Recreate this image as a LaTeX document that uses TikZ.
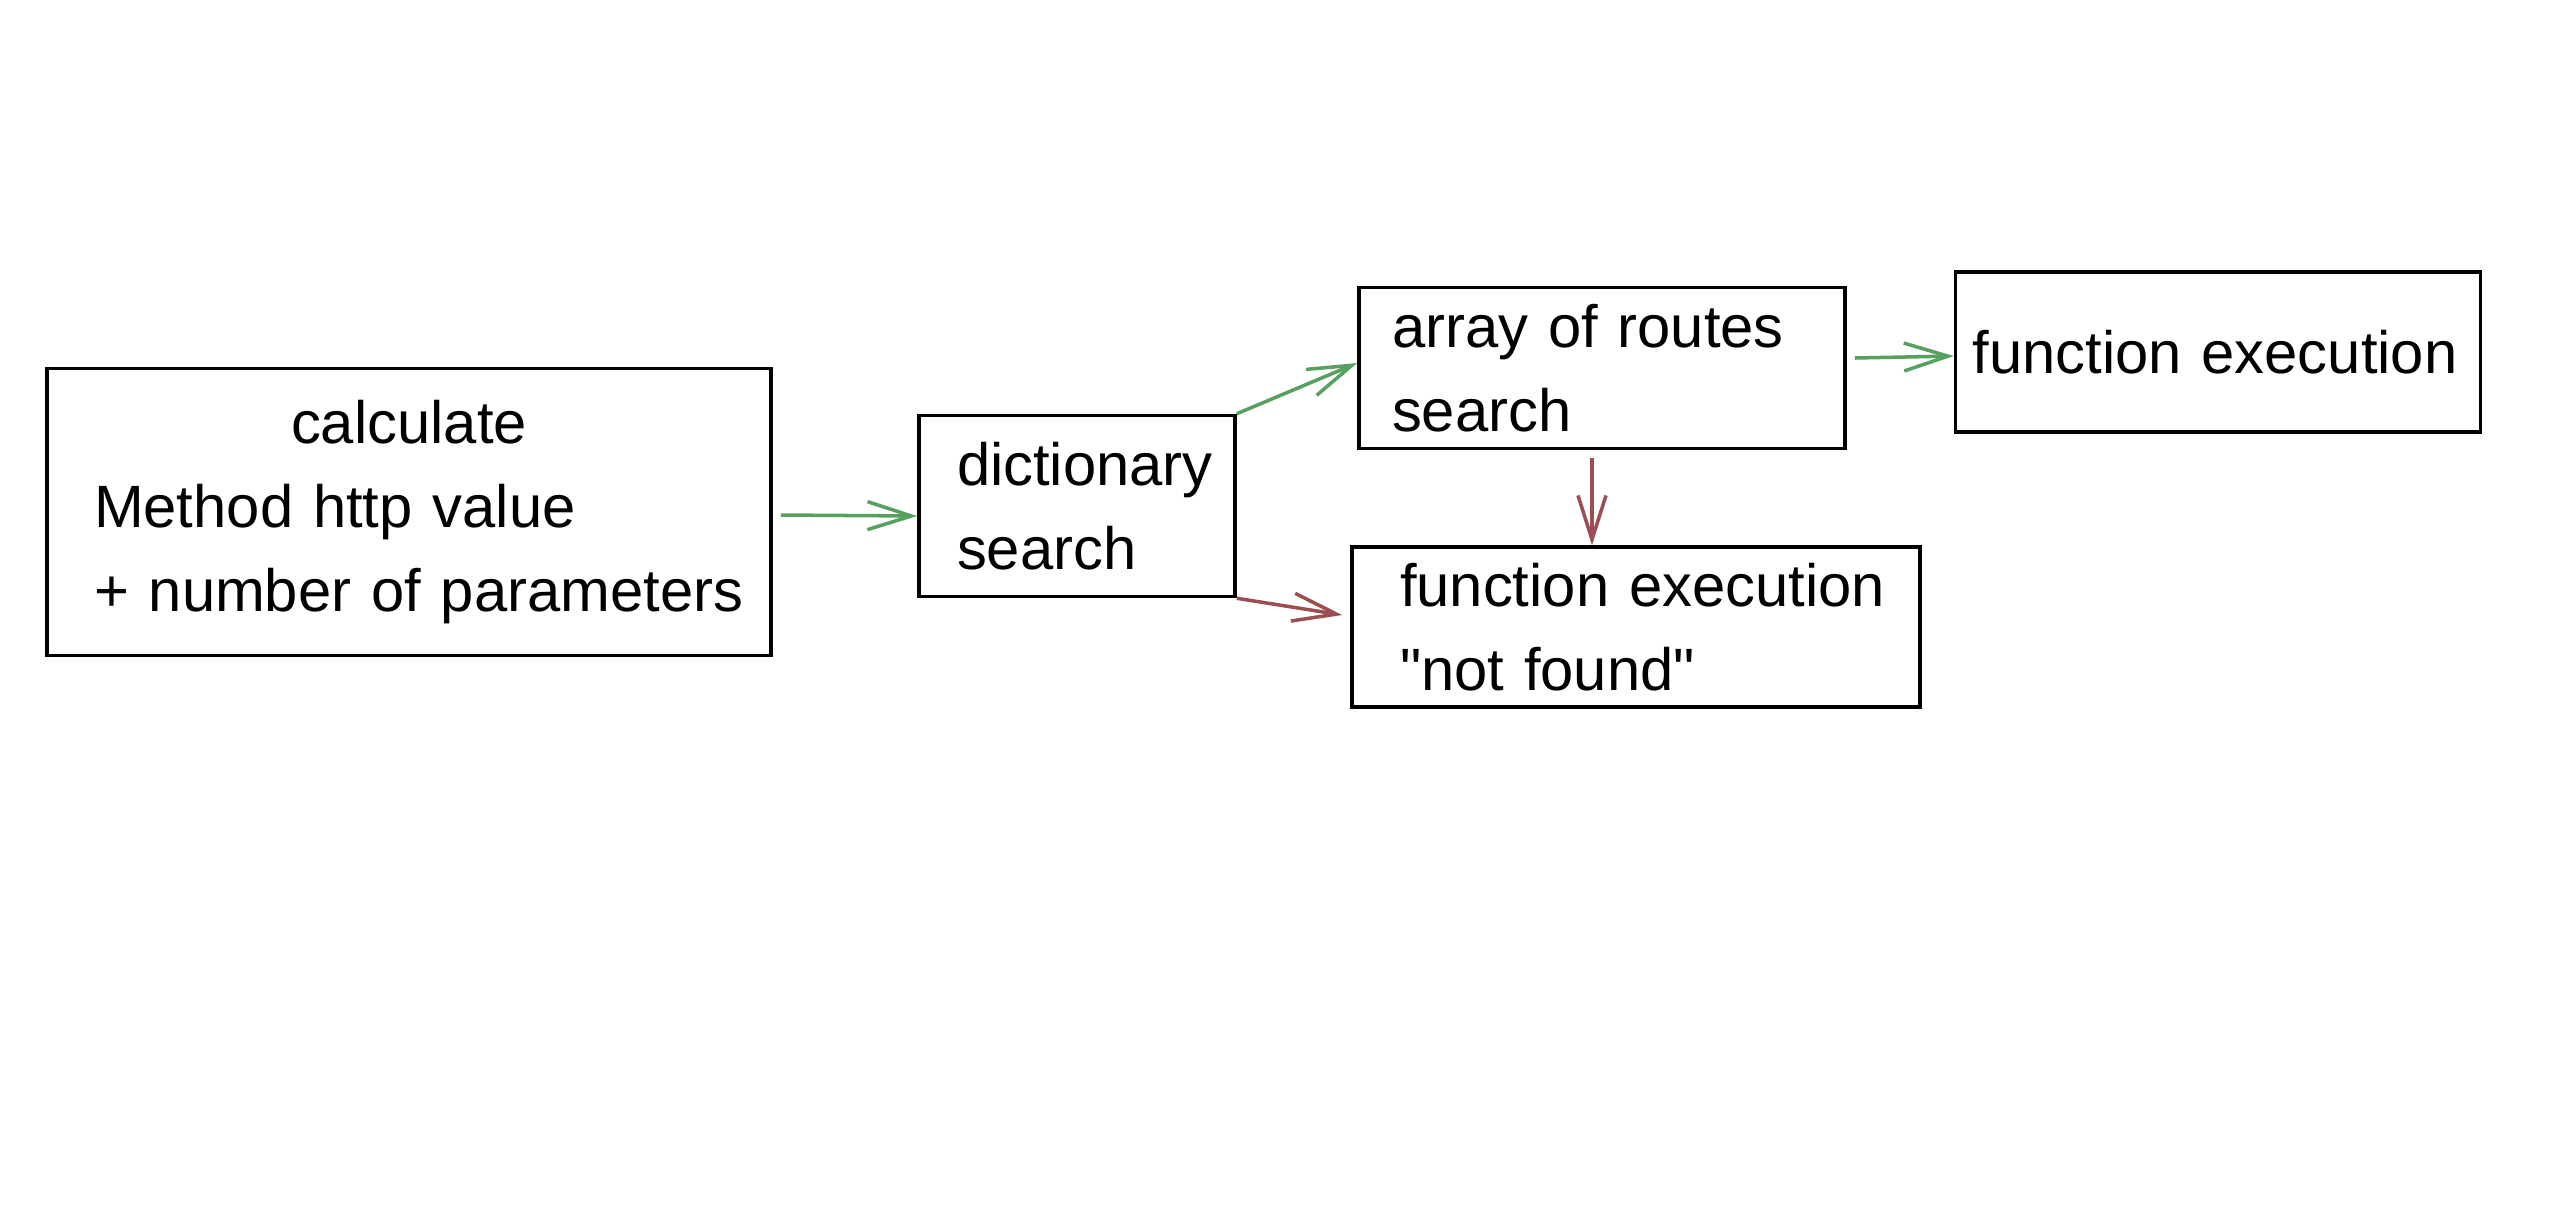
\documentclass[tikz,border=0pt]{standalone}
\usepackage{fontspec}
\newfontfamily\boxfont{Liberation Sans}
\usetikzlibrary{arrows.meta}
\definecolor{okgreen}{RGB}{87,160,95}
\definecolor{failred}{RGB}{155,79,83}
\begin{document}
\begin{tikzpicture}[>={Straight Barb[length=4.4mm,width=2.8mm]},
  box/.style={draw, line width=1pt, align=left, inner ysep=0pt, font=\boxfont\fontsize{17}{24}\selectfont},
  ok/.style={->, okgreen, line width=1pt},
  fail/.style={->, failred, line width=1pt}]
\useasboundingbox (0,0) rectangle (25.68,-12.08);

\node[box, text width=6.30cm, inner xsep=.47cm, minimum height=2.87cm] (calc) at (4.09,-5.12)
  {\hfill calculate\hfill\null\\ Method http value\\ \mbox{+ number of parameters}};
\node[box, text width=2.40cm, inner xsep=.38cm, minimum height=1.81cm] (dict) at (10.77,-5.06)
  {dictionary\\ search};
\node[box, text width=4.20cm, inner xsep=.33cm, minimum height=1.61cm] (routes) at (16.02,-3.68)
  {array of routes\\ search};
\node[box, text width=4.91cm, inner xsep=.17cm, minimum height=1.60cm] (fexec) at (22.18,-3.52)
  {\mbox{function execution}};
\node[box, text width=4.72cm, inner xsep=.48cm, minimum height=1.60cm] (notfound) at (16.36,-6.27)
  {\mbox{function execution}\\ "not found"};

\draw[ok] ([xshift=.08cm,yshift=-.03cm]calc.east) -- ([yshift=-.1cm]dict.west);
\draw[ok] (dict.north east) -- ([yshift=.05cm]routes.west);
\draw[fail] (dict.south east) -- ([xshift=-.08cm,yshift=.12cm]notfound.west);
\draw[fail] ([xshift=-.1cm,yshift=-.08cm]routes.south) coordinate (cut) -- (cut |- notfound.north);
\draw[ok] ([xshift=.08cm,yshift=.1cm]routes.east) -- ([yshift=-.04cm]fexec.west);

\end{tikzpicture}
\end{document}
